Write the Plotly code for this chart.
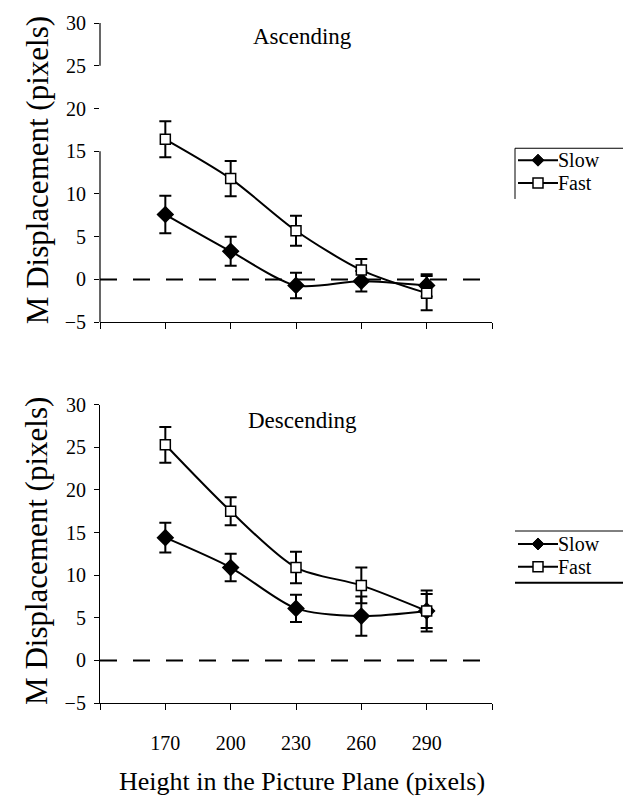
import plotly.graph_objects as go

heights = [170, 200, 230, 260, 290]
asc_slow = [7.6, 3.3, -0.7, -0.2, -0.7]
asc_slow_err = [2.2, 1.7, 1.5, 1.2, 1.3]
asc_fast = [16.4, 11.8, 5.7, 1.1, -1.6]
asc_fast_err = [2.1, 2.05, 1.75, 1.3, 2.0]
desc_slow = [14.4, 10.9, 6.1, 5.2, 5.8]
desc_slow_err = [1.75, 1.6, 1.6, 2.3, 2.0]
desc_fast = [25.3, 17.5, 10.9, 8.8, 5.8]
desc_fast_err = [2.1, 1.65, 1.85, 2.1, 2.4]
y_ticks = [-5, 0, 5, 10, 15, 20, 25, 30]
x_ticks = [140, 170, 200, 230, 260, 290, 320]
x_tick_text = ["", "170", "200", "230", "260", "290", ""]
series_names = ["Slow", "Fast"]
panel_titles = ["Ascending", "Descending"]

FONT = "Liberation Serif"
W, H = 628, 803
ML, MR, MT, MB = 100, 136, 19, 100
PW, PH = W - ML - MR, H - MT - MB


def px_x(px):
    return (px - ML) / PW


def px_y(py):
    return (H - MB - py) / PH


fig = go.Figure()


def add_series(y, err, name, xa, ya, filled):
    fig.add_trace(go.Scatter(
        x=heights, y=y, name=name, mode="lines+markers",
        xaxis=xa, yaxis=ya, showlegend=False,
        line=dict(color="black", width=2, shape="spline", smoothing=0.8),
        marker=dict(
            symbol="diamond" if filled else "square",
            size=12 if filled else 10,
            color="black" if filled else "white",
            line=dict(color="black", width=1.5),
        ),
        error_y=dict(type="data", array=err, visible=True, color="black",
                     thickness=2, width=6),
    ))


add_series(asc_slow, asc_slow_err, series_names[0], "x", "y", True)
add_series(asc_fast, asc_fast_err, series_names[1], "x", "y", False)
add_series(desc_slow, desc_slow_err, series_names[0], "x2", "y2", True)
add_series(desc_fast, desc_fast_err, series_names[1], "x2", "y2", False)

top_dom = [px_y(320), px_y(19)]
bot_dom = [px_y(703), px_y(403)]

xcommon = dict(range=[140, 320], tickvals=x_ticks, showline=True, linecolor="black",
               linewidth=1.2, ticks="outside", ticklen=6, tickcolor="black",
               showgrid=False, zeroline=False,
               tickfont=dict(family=FONT, size=20, color="black"))
ycommon = dict(range=[-5, 30], tickvals=y_ticks, ticks="outside", ticklen=5,
               tickcolor="black", showgrid=False, zeroline=False,
               ticklabelstandoff=4,
               tickfont=dict(family=FONT, size=20, color="black"))

fig.update_layout(
    width=W, height=H,
    margin=dict(l=ML, r=MR, t=MT, b=MB),
    paper_bgcolor="white", plot_bgcolor="white",
    font=dict(family=FONT, color="black"),
    xaxis=dict(**xcommon, domain=[0, 1], anchor="y", ticktext=[""] * len(x_ticks)),
    yaxis=dict(**ycommon, domain=top_dom, anchor="x", showline=False),
    xaxis2=dict(**xcommon, domain=[0, 1], anchor="y2", ticktext=x_tick_text,
                ticklabelstandoff=16),
    yaxis2=dict(**ycommon, domain=bot_dom, anchor="x2", showline=True,
                linecolor="black", linewidth=1.2),
)

shapes = []
# broken y axis line in top panel (as in the scan)
for y0, y1 in [(25, 30), (-5, 15)]:
    shapes.append(dict(type="line", xref="x domain", yref="y", x0=0, x1=0,
                       y0=y0, y1=y1, line=dict(color="black", width=1.2)))
# dashed zero lines
for xr, yr in [("x domain", "y"), ("x2 domain", "y2")]:
    shapes.append(dict(type="line", xref=xr, yref=yr, x0=0, x1=0.975, y0=0, y1=0,
                       line=dict(color="black", width=2, dash="17px,16px")))


def legend_block(top, bottom_line, rows, left_border):
    shapes.append(dict(type="line", xref="paper", yref="paper",
                       x0=px_x(515), x1=px_x(623), y0=px_y(top), y1=px_y(top),
                       line=dict(color="black", width=1)))
    if left_border is not None:
        shapes.append(dict(type="line", xref="paper", yref="paper",
                           x0=px_x(515), x1=px_x(515), y0=px_y(top), y1=px_y(left_border),
                           line=dict(color="black", width=1)))
    if bottom_line is not None:
        shapes.append(dict(type="line", xref="paper", yref="paper",
                           x0=px_x(515), x1=px_x(623), y0=px_y(bottom_line),
                           y1=px_y(bottom_line), line=dict(color="black", width=2)))
    for name, yy, filled in rows:
        shapes.append(dict(type="line", xref="paper", yref="paper",
                           x0=px_x(518), x1=px_x(558), y0=px_y(yy), y1=px_y(yy),
                           line=dict(color="black", width=2)))
        cx = 538
        if filled:
            path = "M {} {} L {} {} L {} {} L {} {} Z".format(
                px_x(cx - 6), px_y(yy), px_x(cx), px_y(yy - 6),
                px_x(cx + 6), px_y(yy), px_x(cx), px_y(yy + 6))
            shapes.append(dict(type="path", xref="paper", yref="paper", path=path,
                               fillcolor="black", line=dict(color="black", width=1)))
        else:
            shapes.append(dict(type="rect", xref="paper", yref="paper",
                               x0=px_x(cx - 5), x1=px_x(cx + 5),
                               y0=px_y(yy + 5), y1=px_y(yy - 5),
                               fillcolor="white", line=dict(color="black", width=1.5)))
        fig.add_annotation(xref="paper", yref="paper", x=px_x(557), y=px_y(yy),
                           text=name, showarrow=False, xanchor="left", yanchor="middle",
                           borderpad=0,
                           font=dict(family=FONT, size=20, color="black"))


legend_block(145, None, [(series_names[0], 157, True), (series_names[1], 180, False)], 196)
legend_block(530, 582, [(series_names[0], 543, True), (series_names[1], 566, False)], None)

fig.update_layout(shapes=shapes)

# panel titles
fig.add_annotation(xref="paper", yref="paper", x=px_x(302), y=px_y(33),
                   text=panel_titles[0], showarrow=False, xanchor="center", yanchor="middle",
                   font=dict(family=FONT, size=23, color="black"))
fig.add_annotation(xref="paper", yref="paper", x=px_x(302), y=px_y(419),
                   text=panel_titles[1], showarrow=False, xanchor="center", yanchor="middle",
                   font=dict(family=FONT, size=23, color="black"))

# axis titles
for cy in [167, 550]:
    fig.add_annotation(xref="paper", yref="paper", x=px_x(37), y=px_y(cy),
                       text="M Displacement (pixels)", showarrow=False, textangle=-90,
                       xanchor="center", yanchor="middle",
                       font=dict(family=FONT, size=31, color="black"))
fig.add_annotation(xref="paper", yref="paper", x=px_x(302), y=px_y(782),
                   text="Height in the Picture Plane (pixels)", showarrow=False,
                   xanchor="center", yanchor="middle",
                   font=dict(family=FONT, size=26, color="black"))

fig.write_html("out.html", config={"displayModeBar": False},
               post_script="document.body.style.margin='0';")
